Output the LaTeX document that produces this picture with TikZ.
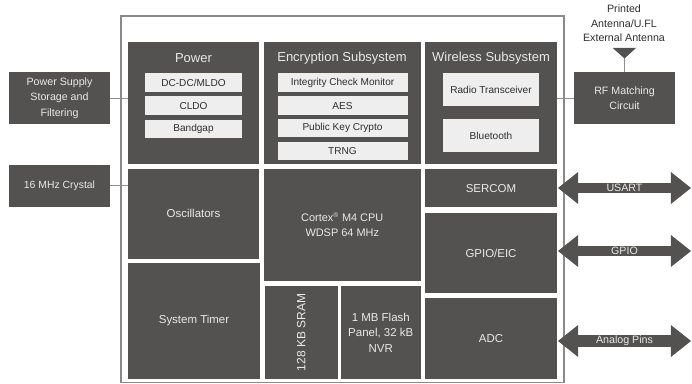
\documentclass[tikz,border=0pt]{standalone}
\usepackage{fontspec}
\setmainfont{Liberation Sans}
\usepackage{xcolor}
\usetikzlibrary{arrows.meta,calc,positioning,fit,shapes.arrows}
\definecolor{blockgray}{HTML}{545250}
\definecolor{subgray}{HTML}{EEEEEE}
\definecolor{framegray}{HTML}{8A8A8A}
\definecolor{wiregray}{HTML}{8F8F8F}
\definecolor{lighttext}{HTML}{E9E9E9}
\definecolor{darktext}{HTML}{2E2E2E}
\tikzset{
  blockbox/.style={fill=blockgray,draw=none,inner sep=0pt},
  subbox/.style={fill=subgray,draw=none,inner sep=0pt},
  blocklabel/.style={text=lighttext,align=center,inner sep=0pt,font=\fontsize{#1}{11.6}\selectfont},
  blocktext/.style={label={[blocklabel=8.6]center:{#1}}},
  sizedtext/.style 2 args={label={[blocklabel=#1]center:{#2}}},
  subtext/.style={label={[blocklabel=7.55,text=darktext]center:{#1}}},
  titletext/.style={text=lighttext,inner sep=0pt,font=\fontsize{9.75}{12}\selectfont},
  pinarrow/.style={shape=double arrow,fill=blockgray,draw=none,inner sep=0pt,text=lighttext,minimum width=24pt,minimum height=99.75pt,double arrow head extend=6.75pt,double arrow tip angle=77,font=\fontsize{8}{10}\selectfont},
  wire/.style={draw=wiregray,line width=0.6pt},
}
\begin{document}
\begin{tikzpicture}[x=0.75pt,y=-0.75pt]
\useasboundingbox (0,0) rectangle (692,384);
\draw[framegray,line width=0.9pt] (121,16) rectangle (564,382.5);
% top row
\node[blockbox,fit={(128,42)(259,164.5)}] (power) {};
\node[blockbox,fit={(264,42)(420.5,164.5)}] (crypto) {};
\node[blockbox,fit={(425,42)(557,164.5)}] (wireless) {};
\node[titletext] (powertitle) at (193.5,58) {Power};
\node[titletext] (cryptotitle) at (342,58) {Encryption Subsystem};
\node[titletext] (wirelesstitle) at (491,58) {Wireless Subsystem};
\node[subbox,fit={(145,73)(242,92)},subtext={DC-DC/MLDO}] (dcdc) {};
\node[subbox,fit={(145,96.5)(242,115)},subtext={CLDO}] (cldo) {};
\node[subbox,fit={(145,120)(242,138.5)},subtext={Bandgap}] (bandgap) {};
\node[subbox,fit={(277.5,73)(407.5,92)},subtext={Integrity Check Monitor}] (integrity) {};
\node[subbox,fit={(277.5,96.5)(407.5,115)},subtext={AES}] (aes) {};
\node[subbox,fit={(277.5,119)(407.5,137.5)},subtext={Public Key Crypto}] (pubkey) {};
\node[subbox,fit={(277.5,142)(407.5,160.5)},subtext={TRNG}] (trng) {};
\node[subbox,fit={(443,73)(539,106)},subtext={Radio Transceiver}] (radio) {};
\node[subbox,fit={(443,119.5)(539,152.5)},subtext={Bluetooth}] (bluetooth) {};
% lower blocks
\node[blockbox,fit={(128,169)(259,258.7)},blocktext={Oscillators}] (osc) {};
\node[blockbox,fit={(128,263)(260,379)},blocktext={System Timer}] (timer) {};
\node[blockbox,fit={(264,169)(420.5,281)},sizedtext={8.2}{Cortex\textsuperscript{\tiny ®} M4 CPU\\WDSP 64 MHz}] (cpu) {};
\node[blockbox,fit={(265,286)(337.5,379)},label={[blocklabel=9,rotate=90]center:128 KB SRAM}] (sram) {};
\node[blockbox,fit={(341,286)(420.5,379)},blocktext={1 MB Flash\\Panel, 32 kB\\NVR}] (flash) {};
\node[blockbox,fit={(425,169)(557,207.5)},blocktext={SERCOM}] (sercom) {};
\node[blockbox,fit={(425,213.5)(557,293)},blocktext={GPIO/EIC}] (gpio) {};
\node[blockbox,fit={(425,298.5)(557,379)},blocktext={ADC}] (adc) {};
% outside the chip
\node[blockbox,fit={(9,72)(110,124)},sizedtext={8}{Power Supply\\Storage and\\Filtering}] (supply) {};
\node[blockbox,fit={(9,165)(110,207)},sizedtext={7.8}{16 MHz Crystal}] (crystal) {};
\node[blockbox,fit={(574,72)(675,124)},sizedtext={8}{RF Matching\\Circuit}] (rf) {};
\node[align=center,text=darktext,inner sep=0pt,font=\fontsize{8}{10.9}\selectfont] (anttext) at (624,23.5) {Printed\\Antenna/U.FL\\External Antenna};
\coordinate (ant) at (624.5,50);
\draw[wire] (ant)--(rf.north);
\fill[blockgray] (612.7,48)--(636,48)--(624.5,58.5)--cycle;
\draw[wire] (supply.east)--(power.west |- supply.east);
\draw[wire] (crystal.east |- 0,185.5)--(osc.west |- 0,185.5);
\draw[wire] (wireless.east |- rf.west)--(rf.west);
% pins
\node[pinarrow] (usart) at (624.5,188) {USART};
\node[pinarrow] (gpiopin) at (624.5,251) {GPIO};
\node[pinarrow] (analog) at (624.5,341) {Analog Pins};
\end{tikzpicture}
\end{document}
